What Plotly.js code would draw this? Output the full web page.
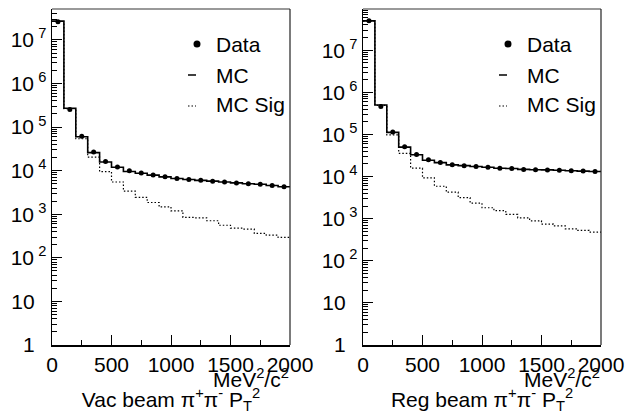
<!DOCTYPE html>
<html>
<head>
<meta charset="utf-8">
<script src="https://cdn.plot.ly/plotly-3.0.1.min.js"></script>
<style>html,body{margin:0;padding:0;background:#fff;}#chart{width:627px;height:417px;}</style>
</head>
<body>
<div id="chart"></div>
<script>
// ---- data ----
const binLow = [0,100,200,300,400,500,600,700,800,900,1000,1100,1200,1300,1400,1500,1600,1700,1800,1900];
const binWidth = 100;

// Vacuum beam panel
const vacData  = [2.6e7, 2.55e5, 6.2e4, 2.7e4, 1.62e4, 1.22e4, 1.0e4, 8800, 8000, 7300, 6650, 6300, 6000, 5750, 5500, 5250, 5000, 4900, 4570, 4270];
const vacMC    = [2.7e7, 2.7e5, 6.0e4, 2.6e4, 1.58e4, 1.2e4, 9600, 8700, 7900, 7200, 6600, 6300, 6000, 5750, 5500, 5250, 5000, 4900, 4570, 4270];
const vacMCSig = [2.65e7, 2.65e5, 5.4e4, 2.04e4, 9550, 5500, 3390, 2450, 1860, 1480, 1200, 850, 830, 710, 560, 480, 457, 363, 331, 295];

// Regenerator beam panel
const regData  = [5.0e7, 4.6e5, 1.15e5, 5.1e4, 3.35e4, 2.5e4, 2.15e4, 1.92e4, 1.82e4, 1.74e4, 1.66e4, 1.58e4, 1.55e4, 1.48e4, 1.45e4, 1.44e4, 1.41e4, 1.38e4, 1.35e4, 1.32e4];
const regMC    = [5.0e7, 5.0e5, 1.12e5, 5.0e4, 3.3e4, 2.45e4, 2.14e4, 1.9e4, 1.82e4, 1.74e4, 1.66e4, 1.58e4, 1.55e4, 1.48e4, 1.45e4, 1.44e4, 1.41e4, 1.38e4, 1.35e4, 1.32e4];
const regMCSig = [4.9e7, 4.9e5, 9.8e4, 3.55e4, 1.58e4, 9300, 5900, 4270, 3160, 2340, 1820, 1550, 1260, 1050, 890, 740, 676, 575, 525, 479];

const xTickVals = [0, 500, 1000, 1500, 2000];
const xTickText = ['0', '500', '1000', '1500', '2000'];
const yTickVals = [1, 10, 1e2, 1e3, 1e4, 1e5, 1e6, 1e7];
const yTickText = ['1&nbsp;&nbsp;', '10&nbsp;&nbsp;', '10<sup>&nbsp;2</sup>', '10<sup>&nbsp;3</sup>', '10<sup>&nbsp;4</sup>', '10<sup>&nbsp;5</sup>', '10<sup>&nbsp;6</sup>', '10<sup>&nbsp;7</sup>'];
const legendLabels = ['Data', 'MC', 'MC Sig'];
const panelTitles = ['Vac beam \u03c0<sup>+</sup>\u03c0<sup>-</sup> P<sub>T</sub><sup>2</sup>', 'Reg beam \u03c0<sup>+</sup>\u03c0<sup>-</sup> P<sub>T</sub><sup>2</sup>'];
const unitLabel = 'MeV<sup>2</sup>/c<sup>2</sup>';

// ---- helpers ----
const W = 627, H = 417;
const fx = p => p / W;
const fy = p => 1 - p / H;
const FONT = 'Liberation Sans, Arial, Helvetica, sans-serif';

const edges = binLow.concat([binLow[binLow.length - 1] + binWidth]);
const centers = binLow.map(v => v + binWidth / 2);
const stepY = arr => arr.concat([arr[arr.length - 1]]);

const minorY = [];
for (let k = 0; k < 8; k++) for (let m = 2; m <= 9; m++) minorY.push(m * Math.pow(10, k));

function panelTraces(data, mc, sig, xa, ya) {
  return [
    {x: edges, y: stepY(sig), xaxis: xa, yaxis: ya, type: 'scatter', mode: 'lines',
     line: {shape: 'hv', color: '#000', width: 1.2, dash: '1.5px,2px'}, name: 'MC Sig', showlegend: false},
    {x: edges, y: stepY(mc), xaxis: xa, yaxis: ya, type: 'scatter', mode: 'lines',
     line: {shape: 'hv', color: '#000', width: 1.6}, name: 'MC', showlegend: false},
    {x: centers, y: data, xaxis: xa, yaxis: ya, type: 'scatter', mode: 'markers',
     marker: {symbol: 'circle', size: 5, color: '#000'}, name: 'Data', showlegend: false}
  ];
}

const traces = [].concat(
  panelTraces(vacData, vacMC, vacMCSig, 'x', 'y'),
  panelTraces(regData, regMC, regMCSig, 'x2', 'y2')
);

function xAxis(d0, d1, anchor, title) {
  return {
    domain: [fx(d0), fx(d1)], anchor: anchor, range: [0, 2000],
    showline: true, linecolor: '#000', linewidth: 1.5, mirror: false,
    showgrid: false, zeroline: false,
    ticks: 'inside', ticklen: 10, tickwidth: 1, tickcolor: '#000',
    tickmode: 'array', tickvals: xTickVals, ticktext: xTickText,
    minor: {tickmode: 'array', tickvals: [250, 750, 1250, 1750], ticks: 'inside', ticklen: 5, tickwidth: 1, tickcolor: '#000', showgrid: false},
    tickfont: {family: FONT, size: 21, color: '#000'},
    title: {text: title, font: {family: FONT, size: 21, color: '#000'}, standoff: 17},
    automargin: false, fixedrange: true
  };
}
function yAxis(top, anchor) {
  return {
    type: 'log', domain: [fy(345), fy(9)], anchor: anchor, range: [0, top],
    showline: true, linecolor: '#000', linewidth: 1.5, mirror: false,
    showgrid: false, zeroline: false,
    ticks: 'inside', ticklen: 10, tickwidth: 1, tickcolor: '#000',
    tickmode: 'array', tickvals: yTickVals, ticktext: yTickText,
    minor: {tickmode: 'array', tickvals: minorY, ticks: 'inside', ticklen: 5, tickwidth: 1, tickcolor: '#000', showgrid: false},
    tickfont: {family: FONT, size: 21, color: '#000'},
    automargin: false, fixedrange: true
  };
}

const panels = [{l: 52, r: 290, xa: 'x', ya: 'y'}, {l: 363, r: 601, xa: 'x2', ya: 'y2'}];
const shapes = [];
const annotations = [];
panels.forEach((p, i) => {
  // frame top and right
  shapes.push({type: 'line', xref: 'paper', yref: 'paper', x0: fx(p.l), x1: fx(p.r), y0: fy(9), y1: fy(9), line: {color: '#777', width: 1.5}});
  shapes.push({type: 'line', xref: 'paper', yref: 'paper', x0: fx(p.r), x1: fx(p.r), y0: fy(9), y1: fy(345), line: {color: '#222', width: 1.2}});
  // legend symbols
  const off = p.l - 52;
  shapes.push({type: 'circle', xref: 'paper', yref: 'paper', x0: fx(off + 193.5), x1: fx(off + 200.5), y0: fy(40.5), y1: fy(47.5), fillcolor: '#000', line: {color: '#000', width: 0}});
  shapes.push({type: 'line', xref: 'paper', yref: 'paper', x0: fx(off + 188), x1: fx(off + 196), y0: fy(75), y1: fy(75), line: {color: '#000', width: 1.5}});
  shapes.push({type: 'line', xref: 'paper', yref: 'paper', x0: fx(off + 188), x1: fx(off + 196), y0: fy(106), y1: fy(106), line: {color: '#000', width: 1.2, dash: '1.5px,2px'}});
  [44, 75, 104].forEach((yy, j) => {
    annotations.push({xref: 'paper', yref: 'paper', x: fx(off + 214), y: fy(yy), xanchor: 'left', yanchor: 'middle',
      text: legendLabels[j], showarrow: false, font: {family: FONT, size: 21, color: '#000'}});
  });
  annotations.push({xref: 'paper', yref: 'paper', x: fx(p.r + 1), y: fy(378), xanchor: 'right', yanchor: 'middle',
    text: unitLabel, showarrow: false, font: {family: FONT, size: 21, color: '#000'}});
});

const layout = {
  width: W, height: H,
  margin: {l: 0, r: 0, t: 0, b: 0},
  paper_bgcolor: '#fff', plot_bgcolor: '#fff',
  showlegend: false,
  xaxis: xAxis(52, 290, 'y', panelTitles[0]),
  yaxis: yAxis(7.71, 'x'),
  xaxis2: xAxis(363, 601, 'y2', panelTitles[1]),
  yaxis2: yAxis(7.98, 'x2'),
  shapes: shapes,
  annotations: annotations,
  font: {family: FONT, color: '#000'}
};

Plotly.newPlot('chart', traces, layout, {displayModeBar: false, staticPlot: true});
</script>
</body>
</html>
